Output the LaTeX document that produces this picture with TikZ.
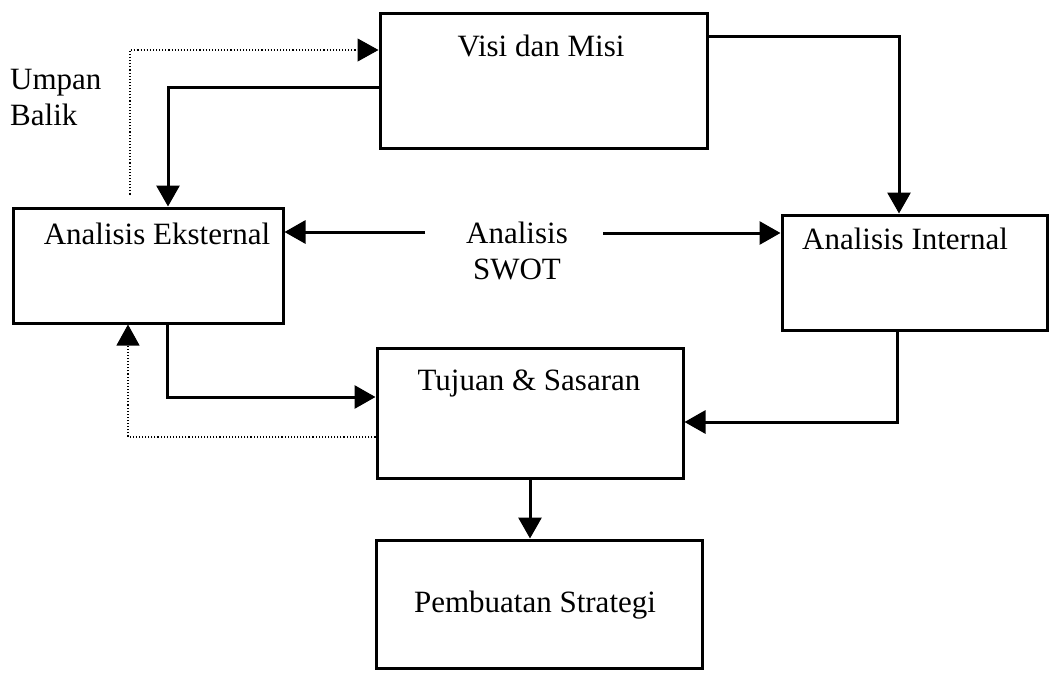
\documentclass[tikz,border=0pt]{standalone}
\usepackage{fontspec}
\setmainfont{Liberation Serif}
\usepackage{tikz}
\usetikzlibrary{arrows.meta,positioning,calc}

\begin{document}
\begin{tikzpicture}[x=1pt,y=-1pt,
    box/.style={draw,line width=3pt,inner sep=0pt},
    txt/.style={font=\fontsize{31}{36}\selectfont,inner sep=0pt},
    flow/.style={line width=3pt,-{Triangle[length=21pt,width=23pt]}},
    balik/.style={line width=1.1pt,dotted,-{Triangle[length=21pt,width=23pt]}}]
  \useasboundingbox (0,0) rectangle (1051,673);
  % kotak
  \node[box,minimum width=327pt,minimum height=135pt] (visi) at (543.5,80.5) {};
  \node[box,minimum width=270pt,minimum height=115pt] (ekst) at (148,265.5) {};
  \node[box,minimum width=265pt,minimum height=115pt] (intr) at (914.5,272.5) {};
  \node[box,minimum width=306pt,minimum height=130pt] (tujuan) at (530,413) {};
  \node[box,minimum width=326pt,minimum height=128pt] (strategi) at (539,604) {};
  % teks
  \node[txt] (tvisi) at (541,46) {Visi dan Misi};
  \node[txt] (tekst) at (157,234) {Analisis Eksternal};
  \node[txt] (tintr) at (905,239) {Analisis Internal};
  \node[txt] (ttujuan) at (529,383) {Tujuan \& Sasaran};
  \node[txt] (tstrategi) at (535,605) {Pembuatan Strategi};
  \node[txt,align=center] (swot) at (517,251) {Analisis\\SWOT};
  \node[txt,align=left,anchor=west] (umpan) at (10,97) {Umpan\\Balik};
  % panah SWOT
  \coordinate (swotL) at (425,232);
  \coordinate (swotR) at (603,233);
  \draw[flow] (swotL) -- (swotL -| ekst.east);
  \draw[flow] (swotR) -- (swotR -| intr.west);
  % panah utama
  \draw[flow] ([yshift=-6.5pt]visi.west) -| ([xshift=20pt]ekst.north);
  \draw[flow] ([yshift=44.5pt]visi.east) -| ([xshift=-15.5pt]intr.north);
  \draw[flow] ([xshift=19pt]ekst.south) |- ([yshift=16pt]tujuan.west);
  \draw[flow] ([xshift=-17.5pt]intr.south) |- ([yshift=-9pt]tujuan.east);
  \draw[flow] (tujuan.south) -- (tujuan.south |- strategi.north);
  % umpan balik
  \draw[balik] ([yshift=-24pt]tujuan.west) -| ([xshift=-20pt]ekst.south);
  \draw[balik] ([xshift=-18pt,yshift=12pt]ekst.north) |- ([yshift=30.5pt]visi.west);
\end{tikzpicture}
\end{document}
